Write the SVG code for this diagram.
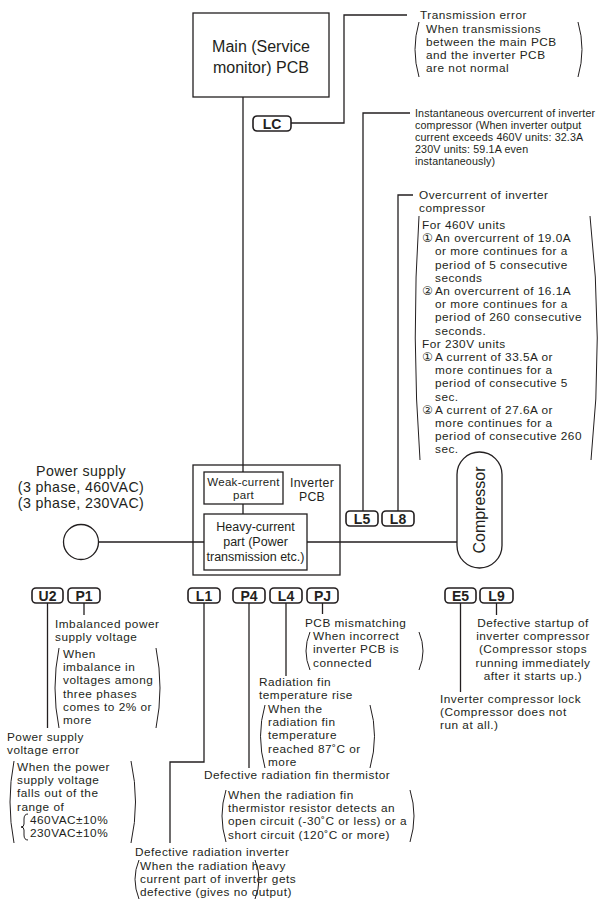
<svg xmlns="http://www.w3.org/2000/svg" width="605" height="900" viewBox="0 0 605 900">
<style>
text{font-family:"Liberation Sans",Arial,"DejaVu Sans",sans-serif;fill:#231f20;}
.t{font-size:11.8px;letter-spacing:0.5px;}
.s{font-size:10.7px;letter-spacing:0.15px;}
.c{text-anchor:middle;}
.box{fill:#fff;stroke:#231f20;stroke-width:1.3;}
.ln{fill:none;stroke:#231f20;stroke-width:1.3;}
.par{fill:none;stroke:#231f20;stroke-width:1;}
.bd rect{fill:#fff;stroke:#231f20;stroke-width:1.6;}
.bd text{font-size:14px;font-weight:bold;text-anchor:middle;}
.num{font-family:"DejaVu Sans",sans-serif;font-size:12px;}
</style>
<rect width="605" height="900" fill="#fff"/>

<g id="connectors">
<path class="ln" d="M243,97V472M243,504V514"/>
<path class="ln" d="M291,123H344V15H407"/>
<path class="ln" d="M363,511V113H410"/>
<path class="ln" d="M398,511V195H413"/>
<path class="ln" d="M98.5,542H204M307,542H457"/>
<path class="ln" d="M47.5,603V728"/>
<path class="ln" d="M84,603V615"/>
<path class="ln" d="M204,603V762H170V843"/>
<path class="ln" d="M249,603V768"/>
<path class="ln" d="M286,603V676"/>
<path class="ln" d="M322.5,603V614"/>
<path class="ln" d="M460.5,603V692"/>
<path class="ln" d="M496.5,603V615"/>
</g>

<g id="main-pcb">
<rect class="box" x="193" y="13" width="136" height="84"/>
<text class="c" x="261" y="52" font-size="16">Main (Service</text>
<text class="c" x="261" y="73" font-size="16">monitor) PCB</text>
</g>

<g id="inverter-pcb">
<rect class="ln" x="193" y="465" width="147" height="110"/>
<text class="c" x="312" y="487" font-size="12.3" letter-spacing="0.3">Inverter</text>
<text class="c" x="312" y="501" font-size="12.3" letter-spacing="0.3">PCB</text>
</g>

<g id="weak-current">
<rect class="box" x="204" y="472" width="79" height="32"/>
<text class="c" x="243.5" y="486" font-size="11.5" letter-spacing="0.3">Weak-current</text>
<text class="c" x="243.5" y="499" font-size="11.5" letter-spacing="0.3">part</text>
</g>

<g id="heavy-current">
<rect class="box" x="204" y="514" width="103" height="56"/>
<text class="c" x="255.5" y="531" font-size="12.5">Heavy-current</text>
<text class="c" x="255.5" y="546" font-size="12.5">part (Power</text>
<text class="c" x="255.5" y="561" font-size="12.5">transmission etc.)</text>
</g>

<g id="power-supply">
<circle class="box" cx="81" cy="542" r="17.5"/>
<text class="c" x="81" y="476" font-size="14.2" letter-spacing="0.4">Power supply</text>
<text class="c" x="81" y="492" font-size="14.2" letter-spacing="0.4">(3 phase, 460VAC)</text>
<text class="c" x="81" y="508" font-size="14.2" letter-spacing="0.4">(3 phase, 230VAC)</text>
</g>

<g id="compressor">
<rect class="box" x="457" y="452" width="45" height="116" rx="22.5"/>
<text class="c" font-size="16" transform="translate(485,510) rotate(-90)">Compressor</text>
</g>

<g id="badge-LC" class="bd"><rect x="253" y="116" width="38" height="15" rx="4"/><text x="272" y="128.5">LC</text></g>
<g id="badge-L5" class="bd"><rect x="346" y="511" width="32" height="15" rx="4"/><text x="362" y="523.5">L5</text></g>
<g id="badge-L8" class="bd"><rect x="382" y="511" width="32" height="15" rx="4"/><text x="398" y="523.5">L8</text></g>
<g id="badge-U2" class="bd"><rect x="32" y="588" width="31" height="15" rx="4"/><text x="47.5" y="600.5">U2</text></g>
<g id="badge-P1" class="bd"><rect x="68" y="588" width="32" height="15" rx="4"/><text x="84" y="600.5">P1</text></g>
<g id="badge-L1" class="bd"><rect x="188" y="588" width="32" height="15" rx="4"/><text x="204" y="600.5">L1</text></g>
<g id="badge-P4" class="bd"><rect x="233" y="588" width="32" height="15" rx="4"/><text x="249" y="600.5">P4</text></g>
<g id="badge-L4" class="bd"><rect x="270" y="588" width="32" height="15" rx="4"/><text x="286" y="600.5">L4</text></g>
<g id="badge-PJ" class="bd"><rect x="307" y="588" width="31" height="15" rx="4"/><text x="322.5" y="600.5">PJ</text></g>
<g id="badge-E5" class="bd"><rect x="445" y="588" width="31" height="15" rx="4"/><text x="460.5" y="600.5">E5</text></g>
<g id="badge-L9" class="bd"><rect x="480" y="588" width="33" height="15" rx="4"/><text x="496.5" y="600.5">L9</text></g>

<g id="note-LC">
<text class="t" x="420" y="19">Transmission error</text>
<text class="t" x="426" y="32.5">When transmissions</text>
<text class="t" x="426" y="45.7">between the main PCB</text>
<text class="t" x="426" y="58.9">and the inverter PCB</text>
<text class="t" x="426" y="72.1">are not normal</text>
<path class="par" d="M419,22Q411,49.5 419,77M578,22Q586,49.5 578,77"/>
</g>

<g id="note-L5">
<text class="s" x="415" y="117">Instantaneous overcurrent of inverter</text>
<text class="s" x="415" y="129">compressor (When inverter output</text>
<text class="s" x="415" y="141">current exceeds 460V units: 32.3A</text>
<text class="s" x="415" y="153">230V units: 59.1A even</text>
<text class="s" x="415" y="165">instantaneously)</text>
</g>

<g id="note-L8">
<text class="t" x="419" y="199">Overcurrent of inverter</text>
<text class="t" x="419" y="212.2">compressor</text>
<text class="t" x="422" y="229">For 460V units</text>
<text class="num" x="422" y="242.2">①</text><text class="t" x="435" y="242.2">An overcurrent of 19.0A</text>
<text class="t" x="435" y="255.4">or more continues for a</text>
<text class="t" x="435" y="268.6">period of 5 consecutive</text>
<text class="t" x="435" y="281.8">seconds</text>
<text class="num" x="422" y="295">②</text><text class="t" x="435" y="295">An overcurrent of 16.1A</text>
<text class="t" x="435" y="308.2">or more continues for a</text>
<text class="t" x="435" y="321.4">period of 260 consecutive</text>
<text class="t" x="435" y="334.6">seconds.</text>
<text class="t" x="422" y="347.8">For 230V units</text>
<text class="num" x="422" y="361">①</text><text class="t" x="435" y="361">A current of 33.5A or</text>
<text class="t" x="435" y="374.2">more continues for a</text>
<text class="t" x="435" y="387.4">period of consecutive 5</text>
<text class="t" x="435" y="400.6">sec.</text>
<text class="num" x="422" y="413.8">②</text><text class="t" x="435" y="413.8">A current of 27.6A or</text>
<text class="t" x="435" y="427">more continues for a</text>
<text class="t" x="435" y="440.2">period of consecutive 260</text>
<text class="t" x="435" y="453.4">sec.</text>
<path class="par" d="M419,216Q411,338 420,460M590,216Q604,338 591,460"/>
</g>

<g id="note-P1">
<text class="t" x="55" y="628">Imbalanced power</text>
<text class="t" x="55" y="641.2">supply voltage</text>
<text class="t" x="63" y="658">When</text>
<text class="t" x="63" y="671.2">imbalance in</text>
<text class="t" x="63" y="684.4">voltages among</text>
<text class="t" x="63" y="697.6">three phases</text>
<text class="t" x="63" y="710.8">comes to 2% or</text>
<text class="t" x="63" y="724">more</text>
<path class="par" d="M59,648Q51,688 59,728M156,648Q164,688 156,728"/>
</g>

<g id="note-U2">
<text class="t" x="7" y="741">Power supply</text>
<text class="t" x="7" y="754.2">voltage error</text>
<text class="t" x="17" y="771">When the power</text>
<text class="t" x="17" y="784.2">supply voltage</text>
<text class="t" x="17" y="797.4">falls out of the</text>
<text class="t" x="17" y="810.6">range of</text>
<text class="t" x="30" y="823.8">460VAC±10%</text>
<text class="t" x="30" y="837">230VAC±10%</text>
<path class="par" d="M14,761Q6,802 14,843M131,761Q140,802 131,843"/>
<path class="par" d="M28,814Q24,814 24,819V824Q24,827 21,827Q24,827 24,830V835Q24,840 28,840"/>
</g>

<g id="note-PJ">
<text class="t" x="305" y="627">PCB mismatching</text>
<text class="t" x="313" y="640.2">When incorrect</text>
<text class="t" x="313" y="653.4">inverter PCB is</text>
<text class="t" x="313" y="666.6">connected</text>
<path class="par" d="M310,632Q302,651 310,670M419,632Q427,651 419,670"/>
</g>

<g id="note-L4">
<text class="t" x="259" y="686">Radiation fin</text>
<text class="t" x="259" y="699.2">temperature rise</text>
<text class="t" x="268" y="713">When the</text>
<text class="t" x="268" y="726.2">radiation fin</text>
<text class="t" x="268" y="739.4">temperature</text>
<text class="t" x="268" y="752.6">reached 87˚C or</text>
<text class="t" x="268" y="765.8">more</text>
<path class="par" d="M265,705Q256,736 265,768M370,705Q379,736 370,768"/>
</g>

<g id="note-P4">
<text class="t" x="204" y="779">Defective radiation fin thermistor</text>
<text class="t" x="228" y="799">When the radiation fin</text>
<text class="t" x="228" y="812.2">thermistor resistor detects an</text>
<text class="t" x="228" y="825.4">open circuit (-30˚C or less) or a</text>
<text class="t" x="228" y="838.6">short circuit (120˚C or more)</text>
<path class="par" d="M226,790Q218,816 226,842M410,790Q418,816 410,842"/>
</g>

<g id="note-L1">
<text class="t" x="135" y="856">Defective radiation inverter</text>
<text class="t" x="140" y="870">When the radiation heavy</text>
<text class="t" x="140" y="883.2">current part of inverter gets</text>
<text class="t" x="140" y="896.4">defective (gives no output)</text>
<path class="par" d="M139,860Q131,879 139,899M255,860Q263,879 255,899"/>
</g>

<g id="note-L9">
<text class="t c" x="533" y="627">Defective startup of</text>
<text class="t c" x="533" y="640.2">inverter compressor</text>
<text class="t c" x="533" y="653.4">(Compressor stops</text>
<text class="t c" x="533" y="666.6">running immediately</text>
<text class="t c" x="533" y="679.8">after it starts up.)</text>
</g>

<g id="note-E5">
<text class="t" x="440" y="703">Inverter compressor lock</text>
<text class="t" x="440" y="716.2">(Compressor does not</text>
<text class="t" x="440" y="729.4">run at all.)</text>
</g>
</svg>
